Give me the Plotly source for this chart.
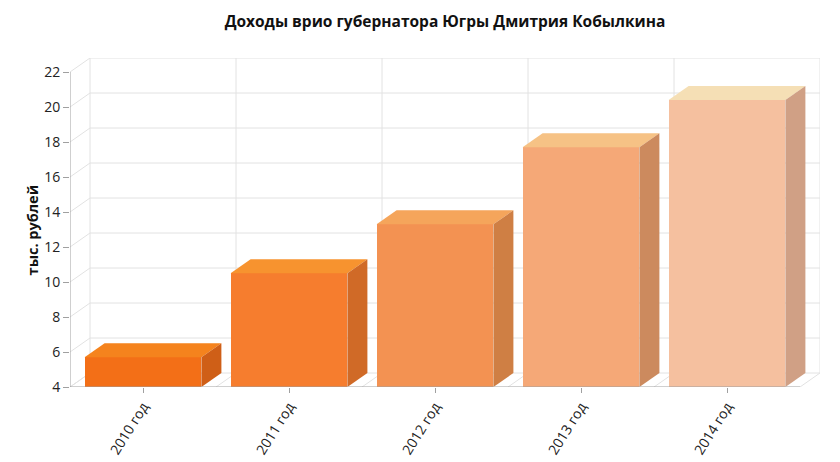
import plotly.graph_objects as go

# данные
years = ['2010 год', '2011 год', '2012 год', '2013 год', '2014 год']
income = [5.7, 10.5, 13.3, 17.7, 20.4]
y_ticks = [4, 6, 8, 10, 12, 14, 16, 18, 20, 22]

front_colors = ['#F36F17', '#F67D2E', '#F39252', '#F5A877', '#F5C09F']
top_colors = ['#F5831D', '#F7932F', '#F5A55B', '#F6C285', '#F5DFB5']
side_colors = ['#CF5F17', '#D06A27', '#CF7F44', '#CC8A5E', '#D0A085']

# псевдо-3D: глубина в единицах осей
DX = 0.137   # по категориям
DY = 0.8     # по значениям
BW = 0.8     # ширина столбца
y0 = y_ticks[0]
y1 = y_ticks[-1]
n = len(years)
xs = list(range(n))

fig = go.Figure()

# передние грани
fig.add_trace(go.Bar(x=xs, y=[v - y0 for v in income], base=y0, width=BW,
                     marker=dict(color=front_colors, line=dict(width=0)),
                     hoverinfo='skip', showlegend=False))

# верх и бок
for i, v in enumerate(income):
    l, r = i - BW / 2, i + BW / 2
    fig.add_trace(go.Scatter(x=[l, l + DX, r + DX, r, l], y=[v, v + DY, v + DY, v, v],
                             fill='toself', fillcolor=top_colors[i], mode='lines',
                             line=dict(width=0), hoverinfo='skip', showlegend=False))
    fig.add_trace(go.Scatter(x=[r, r, r + DX, r + DX, r], y=[y0, v, v + DY, y0 + DY, y0],
                             fill='toself', fillcolor=side_colors[i], mode='lines',
                             line=dict(width=0), hoverinfo='skip', showlegend=False))

grid = dict(color='#e2e2e2', width=1)
shapes = []
left, right = -0.5, n - 0.5
for t in y_ticks:
    shapes.append(dict(type='line', xref='x', yref='y', layer='below', line=grid,
                       x0=left + DX, x1=right + DX, y0=t + DY, y1=t + DY))
    shapes.append(dict(type='line', xref='x', yref='y', layer='below', line=grid,
                       x0=left, x1=left + DX, y0=t, y1=t + DY))
for k in range(n + 1):
    b = left + k
    shapes.append(dict(type='line', xref='x', yref='y', layer='below', line=grid,
                       x0=b + DX, x1=b + DX, y0=y0 + DY, y1=y1 + DY))
    shapes.append(dict(type='line', xref='x', yref='y', layer='below', line=grid,
                       x0=b, x1=b + DX, y0=y0, y1=y0 + DY))
# оси
axis_line = dict(color='#a0a0a0', width=1)
shapes.append(dict(type='line', xref='x', yref='y', layer='above', line=axis_line,
                   x0=left, x1=left, y0=y0, y1=y1))
shapes.append(dict(type='line', xref='x', yref='y', layer='above', line=axis_line,
                   x0=left, x1=right, y0=y0, y1=y0))

# страница имеет отступ 8px, поэтому размер чуть меньше окна
fig.update_layout(
    width=832, height=454,
    margin=dict(l=62, r=20, t=50, b=75, autoexpand=False),
    plot_bgcolor='white', paper_bgcolor='white',
    font=dict(family='Open Sans', size=14, color='#222'),
    title=dict(text='<b>Доходы врио губернатора Югры Дмитрия Кобылкина</b>',
               xref='paper', x=0.5, xanchor='center', y=0.969, yanchor='middle',
               font=dict(family='Open Sans', size=15.5, color='#111')),
    shapes=shapes,
    bargap=0,
    annotations=[dict(text='<b>тыс. рублей</b>', xref='paper', yref='paper',
                      x=-0.0507, y=0.479, xanchor='center', yanchor='middle',
                      textangle=-90, showarrow=False,
                      font=dict(size=14.5, color='#111'))],
)
fig.update_xaxes(range=[left, right + DX], tickvals=xs, ticktext=years, tickangle=-58,
                 showgrid=False, zeroline=False, showline=False, automargin=False,
                 ticks='outside', ticklen=5, tickcolor='#a0a0a0',
                 tickfont=dict(size=14, color='#222'))
fig.update_yaxes(range=[y0, y1 + DY], tickvals=y_ticks, showgrid=False, zeroline=False,
                 showline=False, automargin=False, ticks='outside', ticklen=6,
                 tickcolor='#a0a0a0', tickfont=dict(size=14, color='#222'))

fig.write_html("out.html")
